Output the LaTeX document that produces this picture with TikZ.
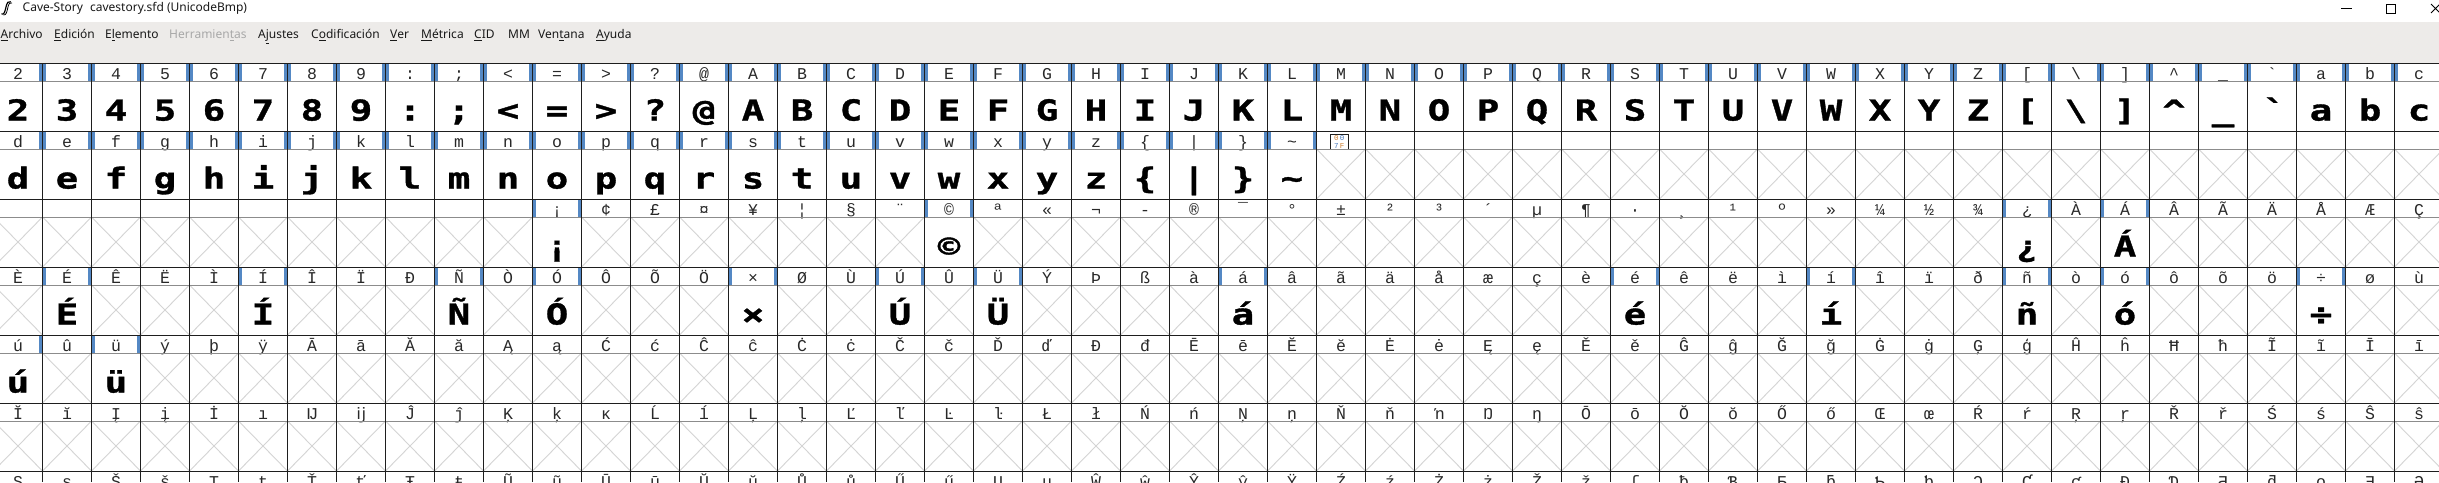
\documentclass[tikz,border=0pt]{standalone}
\usepackage{fontspec}
\setmainfont{Noto Sans}
\newfontfamily\lblfont{Liberation Mono}
\newfontfamily\pixfont[FakeStretch=1.3,FakeBold=1.2]{DejaVu Sans Mono}
\definecolor{menubg}{RGB}{237,235,233}
\definecolor{barblue}{RGB}{84,136,196}
\definecolor{sepgrey}{RGB}{140,140,140}
\definecolor{xgrey}{RGB}{212,212,212}
\definecolor{gridc}{RGB}{30,30,30}
\definecolor{lblc}{RGB}{40,40,40}
\definecolor{menutxt}{RGB}{25,25,25}
\definecolor{disabled}{RGB}{168,168,168}
\definecolor{hexor}{RGB}{205,125,45}
\definecolor{hexbl}{RGB}{70,120,190}

\newcommand\gcell[3]{%
  \fill[barblue] ({-6.5+49*#2},{63+68*#1}) rectangle ++(3.5,18);
  \fill[barblue] ({39+49*#2},{63+68*#1}) rectangle ++(3.5,18);
  \node[lbl] (l-#1-#2) at ({18+49*#2},{79+68*#1}) {#3};
  \node[gly] (g-#1-#2) at ({18+49*#2},{120.5+68*#1}) {#3};
}
\newcommand\xcross[2]{%
  \draw[xl] ({-6.5+49*#2},{81+68*#1}) -- ({42.5+49*#2},{131+68*#1})
            ({42.5+49*#2},{81+68*#1}) -- ({-6.5+49*#2},{131+68*#1});
}
\newcommand\xcell[3]{%
  \node[lbl] (l-#1-#2) at ({18+49*#2},{79+68*#1}) {#3};
  \xcross{#1}{#2}%
}

\begin{document}
\begin{tikzpicture}[x=1pt,y=-1pt,
  lbl/.style={font=\lblfont\fontsize{16.5}{16.5}\selectfont, text=lblc, inner sep=0pt, anchor=base},
  gly/.style={font=\pixfont\bfseries\fontsize{28.8}{28.8}\selectfont, text=black, inner sep=0pt, anchor=base},
  menu/.style={font=\fontsize{12}{12}\selectfont, text=menutxt, inner sep=0pt, anchor=base west},
  xl/.style={draw=xgrey, line width=0.9pt},
  gl/.style={draw=gridc, line width=1pt},
  sl/.style={draw=sepgrey, line width=1pt}]
\useasboundingbox (0,0) rectangle (2439,482);
\begin{scope}
\clip (0,0) rectangle (2439,482);
\fill[white] (0,0) rectangle (2439,482);
% title bar
\draw[line width=1.2pt, black] (1.5,14) .. controls (4.5,15) and (5,11) .. (6,7) .. controls (7,2.5) and (8.5,0.5) .. (11,1.8);
\draw[line width=0.8pt, black] (3.5,15) .. controls (6.5,15.5) and (7,11) .. (8,7) .. controls (8.8,3.5) and (10,2) .. (12,3);
\node[menu, anchor=base west] (title) at (22.5,11.5) {Cave-Story\hspace{4pt} cavestory.sfd (UnicodeBmp)};
\draw[black, line width=1pt] (2341,8.5) -- (2352,8.5);
\draw[black, line width=1pt] (2386.5,4) rectangle (2395.5,13);
\draw[black, line width=1pt] (2431,4) -- (2440,13) (2431,13) -- (2440,4);
% menu bar
\fill[menubg] (0,22) rectangle (2439,63);
\node[menu] (m1) at (0.5,38.5) {\underline{A}rchivo};
\node[menu] (m2) at (54,38.5) {\underline{E}dición};
\node[menu] (m3) at (105,38.5) {E\underline{l}emento};
\node[menu, text=disabled] (m4) at (169,38.5) {Herramien\underline{t}as};
\node[menu] (m5) at (258,38.5) {A\underline{j}ustes};
\node[menu] (m6) at (311,38.5) {C\underline{o}dificación};
\node[menu] (m7) at (390,38.5) {\underline{V}er};
\node[menu] (m8) at (421,38.5) {\underline{M}étrica};
\node[menu] (m9) at (474,38.5) {\underline{C}ID};
\node[menu] (m10) at (508,38.5) {MM};
\node[menu] (m11) at (538,38.5) {Ven\underline{t}ana};
\node[menu] (m12) at (596,38.5) {\underline{A}yuda};
% row 0
\foreach \t [count=\c from 0] in {2,3,4,5,6,7,8,9,{:},{;},{<},{=},{>},{?},{@},A,B,C,D,E,F,G,H,I,J,K,L,M,N,O,P,Q,R,S,T,U,V,W,X,Y,Z,{[},{\textbackslash},{]},{\textasciicircum},{\_},{\textasciigrave},a,b,c}
  {\gcell{0}{\c}{\t}}
% row 1
\foreach \t [count=\c from 0] in {d,e,f,g,h,i,j,k,l,m,n,o,p,q,r,s,t,u,v,w,x,y,z,{\{},{|},{\}},{\textasciitilde}}
  {\gcell{1}{\c}{\t}}
\draw[gridc, line width=0.8pt] (1330.5,134) rectangle (1348,149.5);
\node[inner sep=0pt, anchor=base, font=\lblfont\fontsize{7.5}{7.5}\selectfont] (hex1) at (1339.25,140.5) {\textcolor{hexor}{0}\,\textcolor{hexbl}{0}};
\node[inner sep=0pt, anchor=base, font=\lblfont\fontsize{7.5}{7.5}\selectfont] (hex2) at (1339.25,148) {\textcolor{hexbl}{7}\,\textcolor{hexor}{F}};
\foreach \c in {27,...,49} {\xcross{1}{\c}}
% row 2
\foreach \c in {0,...,10} {\xcross{2}{\c}}
\foreach \t/\f [count=\c from 11] in {¡/1,¢/0,£/0,¤/0,¥/0,¦/0,§/0,¨/0,©/1,ª/0,«/0,¬/0,-/0,®/0,¯/0,°/0,±/0,²/0,³/0,´/0,µ/0,¶/0,·/0,¸/0,¹/0,º/0,»/0,¼/0,½/0,¾/0,¿/1,À/0,Á/1,Â/0,Ã/0,Ä/0,Å/0,Æ/0,Ç/0}
  {\ifnum\f=1 \gcell{2}{\c}{\t}\else\xcell{2}{\c}{\t}\fi}
% row 3
\foreach \t/\f [count=\c from 0] in {È/0,É/1,Ê/0,Ë/0,Ì/0,Í/1,Î/0,Ï/0,Ð/0,Ñ/1,Ò/0,Ó/1,Ô/0,Õ/0,Ö/0,×/1,Ø/0,Ù/0,Ú/1,Û/0,Ü/1,Ý/0,Þ/0,ß/0,à/0,á/1,â/0,ã/0,ä/0,å/0,æ/0,ç/0,è/0,é/1,ê/0,ë/0,ì/0,í/1,î/0,ï/0,ð/0,ñ/1,ò/0,ó/1,ô/0,õ/0,ö/0,÷/1,ø/0,ù/0}
  {\ifnum\f=1 \gcell{3}{\c}{\t}\else\xcell{3}{\c}{\t}\fi}
% row 4
\foreach \t/\f [count=\c from 0] in {ú/1,û/0,ü/1,ý/0,þ/0,ÿ/0,Ā/0,ā/0,Ă/0,ă/0,Ą/0,ą/0,Ć/0,ć/0,Ĉ/0,ĉ/0,Ċ/0,ċ/0,Č/0,č/0,Ď/0,ď/0,Đ/0,đ/0,Ē/0,ē/0,Ĕ/0,ĕ/0,Ė/0,ė/0,Ę/0,ę/0,Ě/0,ě/0,Ĝ/0,ĝ/0,Ğ/0,ğ/0,Ġ/0,ġ/0,Ģ/0,ģ/0,Ĥ/0,ĥ/0,Ħ/0,ħ/0,Ĩ/0,ĩ/0,Ī/0,ī/0}
  {\ifnum\f=1 \gcell{4}{\c}{\t}\else\xcell{4}{\c}{\t}\fi}
% row 5
\foreach \t [count=\c from 0] in {Ĭ,ĭ,Į,į,İ,ı,Ĳ,ĳ,Ĵ,ĵ,Ķ,ķ,ĸ,Ĺ,ĺ,Ļ,ļ,Ľ,ľ,Ŀ,ŀ,Ł,ł,Ń,ń,Ņ,ņ,Ň,ň,ŉ,Ŋ,ŋ,Ō,ō,Ŏ,ŏ,Ő,ő,Œ,œ,Ŕ,ŕ,Ŗ,ŗ,Ř,ř,Ś,ś,Ŝ,ŝ}
  {\xcell{5}{\c}{\t}}
% row 6 (partly visible)
\foreach \t [count=\c from 0] in {Ş,ş,Š,š,Ţ,ţ,Ť,ť,Ŧ,ŧ,Ũ,ũ,Ū,ū,Ŭ,ŭ,Ů,ů,Ű,ű,Ų,ų,Ŵ,ŵ,Ŷ,ŷ,Ÿ,Ź,ź,Ż,ż,Ž,ž,ſ,ƀ,Ɓ,Ƃ,ƃ,Ƅ,ƅ,Ɔ,Ƈ,ƈ,Ɖ,Ɗ,Ƌ,ƌ,ƍ,Ǝ,Ə}
  {\node[lbl] (l-6-\c) at ({18+49*\c},{79+68*6}) {\t};}
% grid lines
\foreach \r in {0,...,6} {
  \draw[gl] (0,{63+68*\r}) -- (2439,{63+68*\r});
  \draw[sl] (0,{81+68*\r}) -- (2439,{81+68*\r});
}
\foreach \j in {0,...,48} {\draw[gl] ({42.5+49*\j},63) -- ({42.5+49*\j},482);}
\end{scope}
\end{tikzpicture}
\end{document}
